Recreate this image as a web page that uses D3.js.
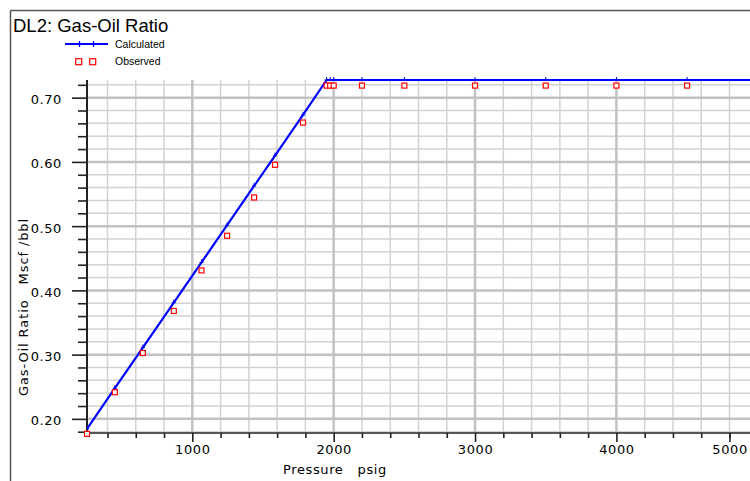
<!DOCTYPE html>
<html><head><meta charset="utf-8">
<script src="https://cdn.jsdelivr.net/npm/d3@7"></script>
<style>
html,body{margin:0;padding:0;background:#fff;}
svg{display:block;}
text{font-family:"DejaVu Sans",sans-serif;fill:#000;}
</style></head>
<body><svg id="c" width="750" height="481"></svg>
<script>
// ---- data ----
const title = "DL2: Gas-Oil Ratio";
const xTitle = "Pressure   psig";
const yTitle = "Gas-Oil Ratio   Mscf /bbl";
const calcPressure = [255, 452, 650, 869, 1065, 1246, 1437, 1585, 1783, 1950, 1975, 2000, 2200, 2500, 3000, 3500, 4000, 4500, 5000];
const calcGOR      = [0.1844, 0.2477, 0.3110, 0.3810, 0.4436, 0.5014, 0.5625, 0.6098, 0.6731, 0.7275, 0.7275, 0.7275, 0.7275, 0.7275, 0.7275, 0.7275, 0.7275, 0.7275, 0.7275];
const obsPressure  = [255, 452, 650, 869, 1065, 1246, 1437, 1585, 1783, 1950, 1975, 2000, 2200, 2500, 3000, 3500, 4000, 4500];
const obsGOR       = [0.1767, 0.2414, 0.3026, 0.368, 0.4311, 0.4851, 0.5446, 0.5955, 0.6613, 0.7188, 0.7188, 0.7188, 0.7188, 0.7188, 0.7188, 0.7188, 0.7188, 0.7188];
const xTickValues  = [1000, 2000, 3000, 4000, 4800];
const xTickLabels  = ["1000", "2000", "3000", "4000", "5000"];
const xMinorTicks  = [400, 600, 800, 1200, 1400, 1600, 1800, 2200, 2400, 2600, 2800, 3200, 3400, 3600, 3800, 4200, 4400, 4600, 4800];
const yTickValues  = [0.2, 0.3, 0.4, 0.5, 0.6, 0.7];
const yTickLabels  = ["0.20", "0.30", "0.40", "0.50", "0.60", "0.70"];
const yMinorTicks  = [0.18, 0.22, 0.24, 0.26, 0.28, 0.32, 0.34, 0.36, 0.38, 0.42, 0.44, 0.46, 0.48, 0.52, 0.54, 0.56, 0.58, 0.62, 0.64, 0.66, 0.68, 0.72];

const svg = d3.select("#c");
const L = 87, T = 80, B = 433, R = 750;
const x = d3.scaleLinear().domain([255, 4945]).range([L, R]);
const y = d3.scaleLinear().domain([0.178, 0.7275]).range([B, T]);

// frame
svg.append("line").attr("x1",10.5).attr("x2",750).attr("y1",10.5).attr("y2",10.5).attr("stroke","#555").attr("stroke-width",1.5);
svg.append("line").attr("x1",10.5).attr("x2",10.5).attr("y1",10.5).attr("y2",481).attr("stroke","#555").attr("stroke-width",1.5);

// title
svg.append("text").attr("x",13).attr("y",31.5).style("font-family","'Liberation Sans',Arial,sans-serif").style("font-size","18.5px").text(title);

// grid
const g = svg.append("g");
g.selectAll(".vmin").data(xMinorTicks).join("line")
 .attr("x1",d=>x(d)).attr("x2",d=>x(d)).attr("y1",T).attr("y2",B).attr("stroke","#d2d2d2").attr("stroke-width",1.5);
g.selectAll(".hmin").data(yMinorTicks).join("line")
 .attr("x1",L).attr("x2",R).attr("y1",d=>y(d)).attr("y2",d=>y(d)).attr("stroke","#d2d2d2").attr("stroke-width",1.5);
g.selectAll(".vmaj").data(xTickValues.slice(0,4)).join("line")
 .attr("x1",d=>x(d)).attr("x2",d=>x(d)).attr("y1",T).attr("y2",B).attr("stroke","#c2c2c2").attr("stroke-width",2.5);
g.selectAll(".hmaj").data(yTickValues).join("line")
 .attr("x1",L).attr("x2",R).attr("y1",d=>y(d)).attr("y2",d=>y(d)).attr("stroke","#c2c2c2").attr("stroke-width",2.5);

// axes
const axStyle = sel => { sel.select(".domain").remove(); sel.selectAll("line").attr("stroke","#222").attr("stroke-width",1.6); sel.selectAll("text").style("font-family","'DejaVu Sans',sans-serif").style("font-size","13px").style("letter-spacing","0.6px").attr("fill","#000"); };
svg.append("g").attr("transform",`translate(${L},0)`)
 .call(d3.axisLeft(y).tickValues(yMinorTicks).tickSize(9).tickFormat(""))
 .call(axStyle);
svg.append("g").attr("transform",`translate(${L},0)`)
 .call(d3.axisLeft(y).tickValues(yTickValues).tickSize(15).tickPadding(10).tickFormat((d,i)=>yTickLabels[i]))
 .call(axStyle)
 .call(s=>s.selectAll("text").attr("dy","0.45em"));
svg.append("g").attr("transform",`translate(0,${B})`)
 .call(d3.axisBottom(x).tickValues(xMinorTicks).tickSize(5).tickFormat(""))
 .call(axStyle);
svg.append("g").attr("transform",`translate(0,${B})`)
 .call(d3.axisBottom(x).tickValues(xTickValues).tickSize(9).tickPadding(3).tickFormat((d,i)=>xTickLabels[i]))
 .call(axStyle);
// axis lines
svg.append("line").attr("x1",L).attr("x2",L).attr("y1",T).attr("y2",B+0.8).attr("stroke","#222").attr("stroke-width",2);
svg.append("line").attr("x1",L).attr("x2",R).attr("y1",B).attr("y2",B).attr("stroke","#222").attr("stroke-width",1.6);

// axis titles
svg.append("text").attr("x",335).attr("y",474).attr("text-anchor","middle").style("font-size","13px").style("letter-spacing","0.6px").style("white-space","pre").attr("xml:space","preserve").text(xTitle);
svg.append("text").attr("transform","translate(28,307) rotate(-90)").attr("text-anchor","middle").style("font-size","13px").style("letter-spacing","0.9px").style("white-space","pre").attr("xml:space","preserve").text(yTitle);

// calculated line
const calc = calcPressure.map((p,i)=>[p,calcGOR[i]]);
svg.append("defs").append("clipPath").attr("id","clip").append("rect").attr("x",L).attr("y",T-4).attr("width",R-L).attr("height",B-T+4);
const plot = svg.append("g").attr("clip-path","url(#clip)");
plot.append("path").datum(calc).attr("d",d3.line().x(d=>x(d[0])).y(d=>y(d[1])))
 .attr("fill","none").attr("stroke","#0000ff").attr("stroke-width",2.2);
plot.selectAll(".cm").data(calc).join("path")
 .attr("d",d=>`M${x(d[0])-2},${y(d[1])}h4M${x(d[0])},${y(d[1])-3}v4`)
 .attr("stroke","#0000ff").attr("stroke-width",1);

// observed
const obs = obsPressure.map((p,i)=>[p,obsGOR[i]]);
svg.selectAll(".om").data(obs).join("rect")
 .attr("x",d=>x(d[0])-2.5).attr("y",d=>y(d[1])-2.5).attr("width",5).attr("height",5)
 .attr("fill","#fff").attr("stroke","#ff0000").attr("stroke-width",1.2);

// legend
svg.append("line").attr("x1",65).attr("x2",108).attr("y1",44).attr("y2",44).attr("stroke","#0000ff").attr("stroke-width",2);
[79.5,93.5].forEach(cx=>svg.append("line").attr("x1",cx).attr("x2",cx).attr("y1",41).attr("y2",47).attr("stroke","#0000ff").attr("stroke-width",1.3));
svg.append("text").attr("x",115).attr("y",48).style("font-family","'Liberation Sans',Arial,sans-serif").style("font-size","10.5px").text("Calculated");
[78.7,92.7].forEach(cx=>svg.append("rect").attr("x",cx-3).attr("y",58.7).attr("width",6).attr("height",6).attr("fill","#fff").attr("stroke","#ff0000").attr("stroke-width",1.2));
svg.append("text").attr("x",115).attr("y",65).style("font-family","'Liberation Sans',Arial,sans-serif").style("font-size","10.5px").text("Observed");
</script></body></html>
